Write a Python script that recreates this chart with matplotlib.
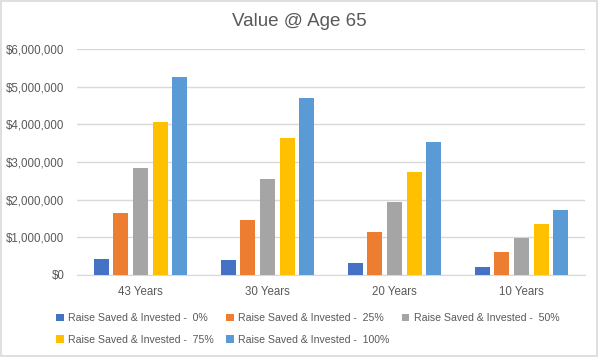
import matplotlib.pyplot as plt
import numpy as np
from matplotlib.patches import Rectangle

plt.rcParams["font.family"] = ["Liberation Sans", "DejaVu Sans"]

categories = ["43 Years", "30 Years", "20 Years", "10 Years"]
series_names = [
    "Raise Saved & Invested -  0%",
    "Raise Saved & Invested -  25%",
    "Raise Saved & Invested -  50%",
    "Raise Saved & Invested -  75%",
    "Raise Saved & Invested -  100%",
]
values = [
    [420000, 400000, 320000, 210000],
    [1640000, 1460000, 1140000, 610000],
    [2840000, 2550000, 1940000, 980000],
    [4050000, 3630000, 2730000, 1350000],
    [5250000, 4700000, 3530000, 1720000],
]
y_ticks = [0, 1000000, 2000000, 3000000, 4000000, 5000000, 6000000]

COLORS = ["#4472C4", "#ED7D31", "#A5A5A5", "#FFC000", "#5B9BD5"]
INK = "#595959"
GRID = "#D9D9D9"

fig = plt.figure(figsize=(5.99, 3.57), dpi=100)
ax = fig.add_axes([77 / 599, 1 - 275 / 357, 508 / 599, 226 / 357])

x = np.arange(len(categories))
step = 0.154
width = 0.118
handles = []
for i, (name, vals) in enumerate(zip(series_names, values)):
    h = ax.bar(x + (i - 2) * step, vals, width=width, color=COLORS[i], label=name, zorder=3)
    handles.append(h)

ax.set_xlim(-0.5, len(categories) - 0.5)
ax.set_ylim(0, 6000000)
ax.set_yticks(y_ticks)
ax.set_yticklabels([f"${v:,.0f}" for v in y_ticks])
ax.set_xticks(x)
ax.set_xticklabels(categories)
ax.yaxis.grid(True, color=GRID, linewidth=1, zorder=0)
ax.set_axisbelow(True)
for s in ("top", "right", "left"):
    ax.spines[s].set_visible(False)
ax.spines["bottom"].set_color(GRID)
ax.tick_params(axis="both", length=0, colors=INK, labelsize=8.3)
ax.tick_params(axis="x", pad=8)
ax.tick_params(axis="y", pad=9)

fig.suptitle("Value @ Age 65", x=0.5, y=1 - 22 / 357, va="center",
             fontsize=13.5, color=INK)

# legend fills row by row like Excel
order = [0, 3, 1, 4, 2]
fig.legend([handles[i] for i in order], [series_names[i] for i in order],
           loc="upper left", bbox_to_anchor=(52 / 599, 1 - 309 / 357), ncol=3,
           frameon=False, fontsize=7.6, labelcolor=INK, handlelength=0.7,
           handleheight=0.7, handletextpad=0.4, columnspacing=1.2,
           labelspacing=1.1, borderaxespad=0)

fig.patches.append(Rectangle((0.002, 0.003), 0.995, 0.993, transform=fig.transFigure,
                             fill=False, edgecolor=GRID, linewidth=1.2))

fig.savefig("out.png", dpi=100, facecolor="white")
